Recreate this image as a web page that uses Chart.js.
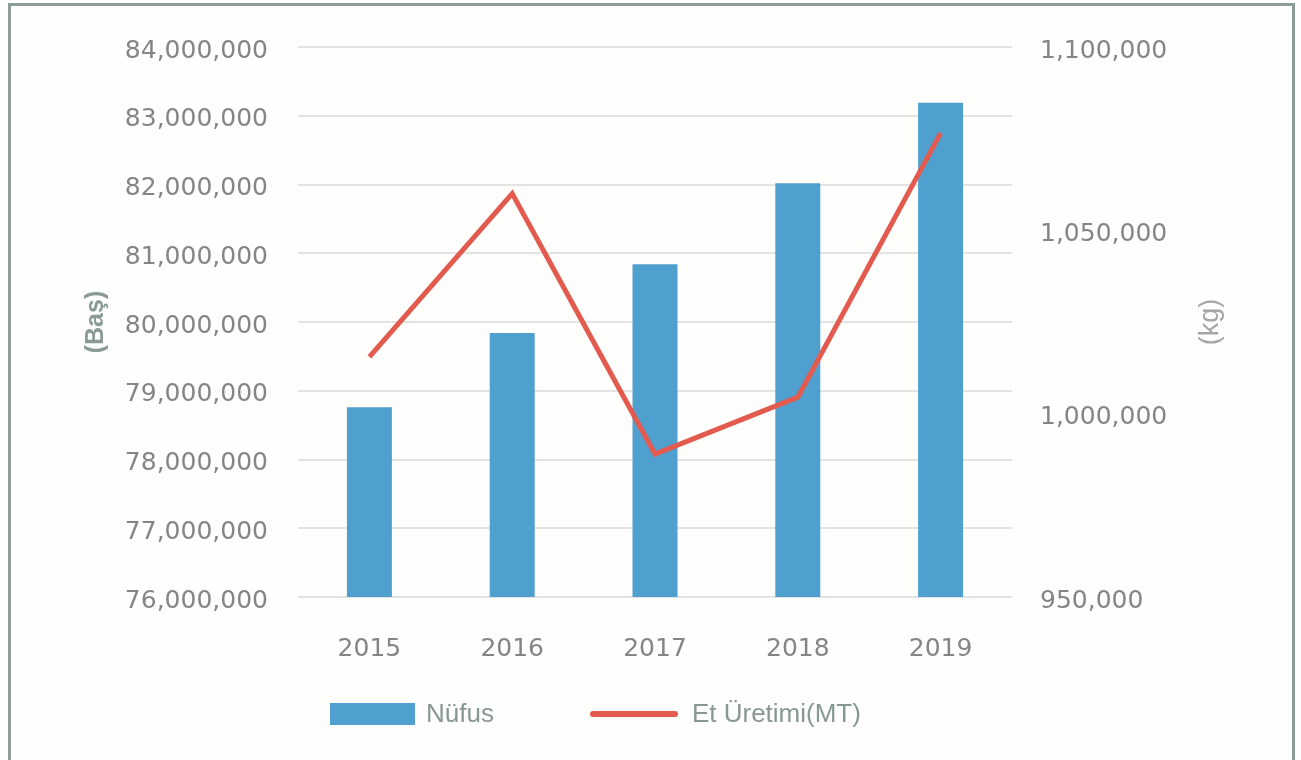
<!DOCTYPE html>
<html lang="tr">
<head>
<meta charset="utf-8">
<title>Nüfus ve Et Üretimi</title>
<script src="https://cdn.jsdelivr.net/npm/chart.js@4.4.1/dist/chart.umd.min.js"></script>
<style>
  html, body { margin: 0; padding: 0; background: #ffffff; overflow: hidden; }
  #frame {
    position: absolute; left: 8px; top: 3px;
    width: 1281px; height: 800px;
    border: 3px solid #8d9c95;
    background: #fefefc;
  }
  #chart-wrap { position: absolute; left: 0; top: 0; width: 1301px; height: 760px; }
  #legend {
    position: absolute; left: 330px; top: 698px;
    display: flex; align-items: center;
    font-family: "Liberation Sans", Arial, sans-serif;
    font-size: 26px; color: #879891;
  }
  .legend-item { display: flex; align-items: center; margin-right: 96px; }
  .legend-box { width: 85px; height: 22px; margin-right: 11px; }
  .legend-line { width: 88px; height: 6px; border-radius: 3px; margin-right: 14px; }
</style>
</head>
<body>
<div id="frame"></div>
<div id="chart-wrap"><canvas id="chart-canvas" width="1301" height="760"></canvas></div>
<div id="legend"></div>
<script>
const years = ['2015', '2016', '2017', '2018', '2019'];
const nufus = [78760000, 79840000, 80840000, 82020000, 83190000];
const etUretimi = [1015500, 1060000, 989000, 1004500, 1076500];

const leftTitle = '(Baş)';
const rightTitle = '(kg)';

const tickFont = { family: 'DejaVu Sans', size: 25 };
const tickColor = '#858585';

function fmt(v) {
  return Number(v).toLocaleString('en-US');
}

// axis titles read bottom-to-top on both sides
const axisTitles = {
  id: 'axisTitles',
  afterDraw(chart) {
    const { ctx, chartArea, scales } = chart;
    const midY = (chartArea.top + chartArea.bottom) / 2;
    const draw = (text, x, font, color) => {
      ctx.save();
      ctx.translate(x, midY);
      ctx.rotate(-Math.PI / 2);
      ctx.font = font;
      ctx.fillStyle = color;
      ctx.textAlign = 'center';
      ctx.textBaseline = 'middle';
      ctx.fillText(text, 0, 0);
      ctx.restore();
    };
    draw(leftTitle, scales.y.left + 60, 'bold 25px "Liberation Sans"', '#8a9b95');
    draw(rightTitle, scales.y1.right + 29, '27px "Liberation Sans"', '#a6a6a6');
  }
};

const ctx = document.getElementById('chart-canvas').getContext('2d');
const chart = new Chart(ctx, {
  type: 'bar',
  data: {
    labels: years,
    datasets: [
      {
        type: 'line',
        label: 'Et Üretimi(MT)',
        data: etUretimi,
        yAxisID: 'y1',
        borderColor: '#e35b4f',
        backgroundColor: '#e35b4f',
        borderWidth: 5,
        pointRadius: 0,
        tension: 0,
        order: 0
      },
      {
        label: 'Nüfus',
        data: nufus,
        yAxisID: 'y',
        backgroundColor: '#4f9fcf',
        barPercentage: 0.315,
        categoryPercentage: 1,
        order: 1
      }
    ]
  },
  options: {
    responsive: false,
    animation: false,
    layout: { padding: { left: 36, right: 119, top: 47, bottom: 0 } },
    plugins: {
      legend: { display: false },
      tooltip: { enabled: false }
    },
    scales: {
      x: {
        grid: { display: false },
        border: { display: false },
        ticks: { font: tickFont, color: tickColor, padding: 29 },
        afterFit: s => { s.height = 163; }
      },
      y: {
        position: 'left',
        min: 76000000,
        max: 84000000,
        grid: { color: '#e3e3e3', lineWidth: 2, drawTicks: false },
        border: { display: false },
        ticks: { stepSize: 1000000, font: tickFont, color: tickColor, padding: 30, labelOffset: 4, callback: fmt },
        afterFit: s => { s.width = 262; }
      },
      y1: {
        position: 'right',
        min: 950000,
        max: 1100000,
        grid: { display: false, drawTicks: false },
        border: { display: false },
        ticks: { stepSize: 50000, font: tickFont, color: tickColor, padding: 28, labelOffset: 4, callback: fmt },
        afterFit: s => { s.width = 170; }
      }
    }
  },
  plugins: [axisTitles]
});

// legend as html, bar first like the original
const legend = document.getElementById('legend');
const items = chart.options.plugins.legend.labels.generateLabels(chart).reverse();
items.forEach(item => {
  const ds = chart.data.datasets[item.datasetIndex];
  const el = document.createElement('div');
  el.className = 'legend-item';
  const mark = document.createElement('span');
  if (ds.type === 'line') {
    mark.className = 'legend-line';
    mark.style.background = ds.borderColor;
  } else {
    mark.className = 'legend-box';
    mark.style.background = ds.backgroundColor;
  }
  const txt = document.createElement('span');
  txt.textContent = item.text;
  el.appendChild(mark);
  el.appendChild(txt);
  legend.appendChild(el);
});
</script>
</body>
</html>
